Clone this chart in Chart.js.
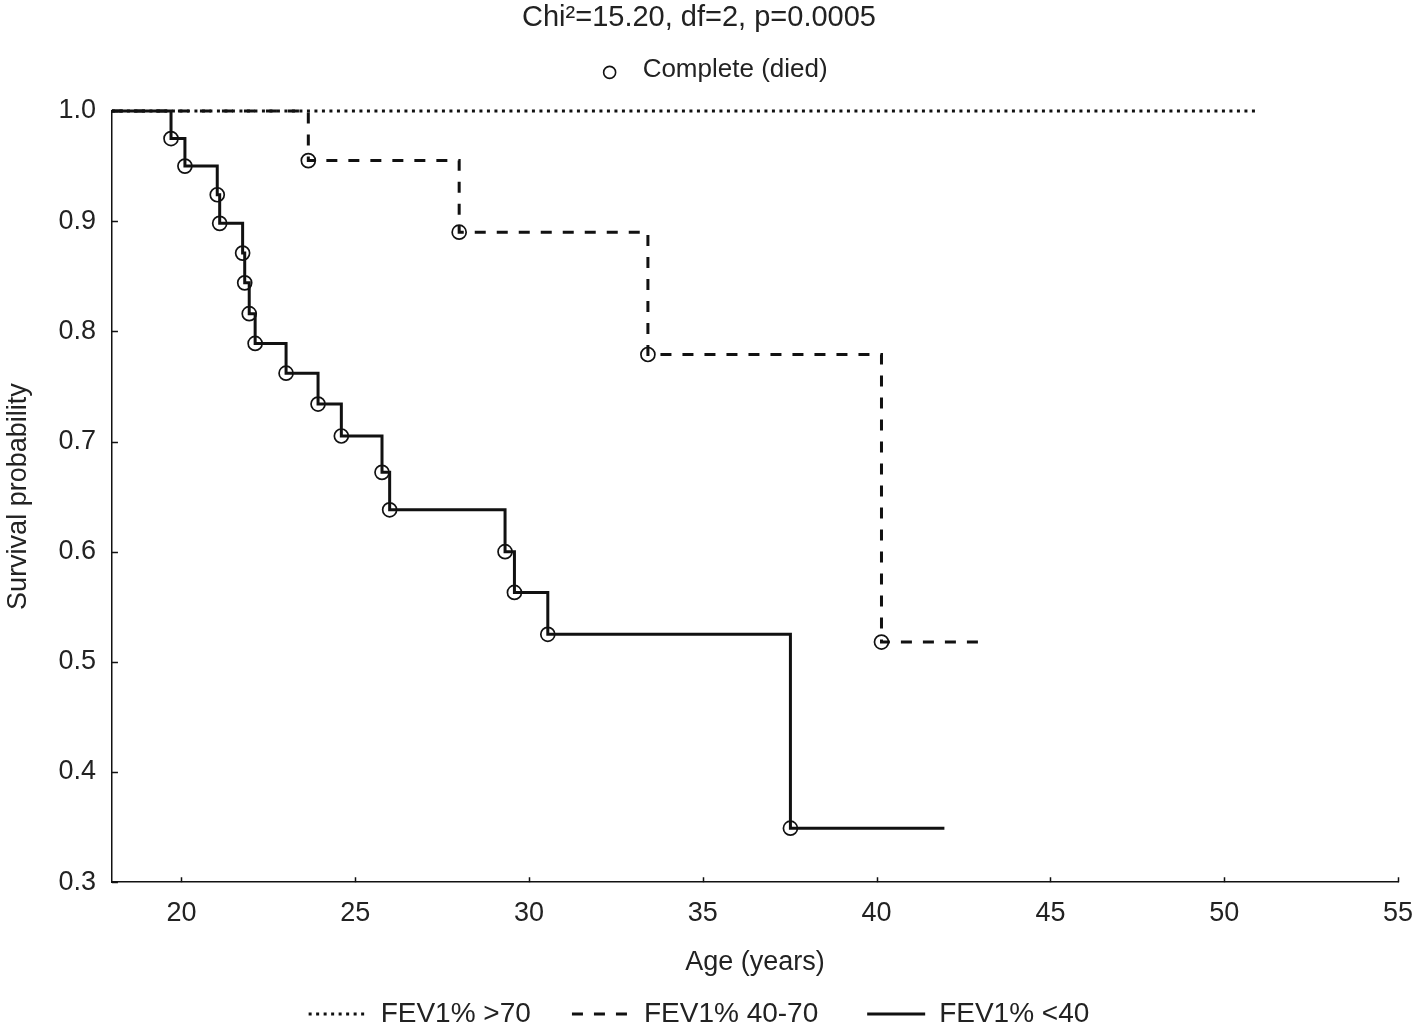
<!DOCTYPE html>
<html>
<head>
<meta charset="utf-8">
<script src="https://cdn.jsdelivr.net/npm/chart.js@4.4.1/dist/chart.umd.min.js"></script>
<style>
html, body { margin: 0; padding: 0; background: #ffffff; overflow: hidden; }
#wrap { width: 1416px; height: 1024px; position: relative; }
</style>
</head>
<body>
<div id="wrap"><canvas id="c" width="1416" height="1024"></canvas></div>
<script>
// ---------- data ----------
const titleText = 'Chi\u00B2=15.20, df=2, p=0.0005';
const censorLabel = 'Complete (died)';
const xTitle = 'Age (years)';
const yTitle = 'Survival probability';
const seriesLabels = ['FEV1% >70', 'FEV1% 40-70', 'FEV1% <40'];

const startAge = 18;

// FEV1% >70 : no deaths observed
const highTimes = [];
const highSurv = [];
const highEnd = 51.0;

// FEV1% 40-70
const midTimes = [23.65, 27.99, 33.42, 40.14];
const midSurv = [0.955, 0.890, 0.779, 0.518];
const midEnd = 43.1;

// FEV1% <40
const lowTimes = [19.70, 20.10, 21.03, 21.10, 21.76, 21.82, 21.95, 22.12, 23.01, 23.93, 24.60, 25.77, 25.99, 29.31, 29.58, 30.54, 37.52];
const lowSurv = [0.975, 0.950, 0.924, 0.898, 0.871, 0.844, 0.816, 0.789, 0.762, 0.734, 0.705, 0.672, 0.638, 0.600, 0.563, 0.525, 0.349];
const lowEnd = 41.95;

const xTicks = [20, 25, 30, 35, 40, 45, 50, 55];
const yTicks = [0.3, 0.4, 0.5, 0.6, 0.7, 0.8, 0.9, 1.0];

// ---------- helpers ----------
function stepData(times, surv, end) {
  const pts = [{x: startAge, y: 1.0}];
  times.forEach((t, i) => pts.push({x: t, y: surv[i]}));
  pts.push({x: end, y: surv.length ? surv[surv.length - 1] : 1.0});
  return pts;
}
function deathPoints(times, surv) {
  return times.map((t, i) => ({x: t, y: surv[i]}));
}

const INK = '#111111';
const TXT = '#222222';
const FONT = '"Liberation Sans", Arial, sans-serif';
const SUB_PAD = ' '.repeat(10);

const lineBase = {
  type: 'line',
  stepped: true,
  borderColor: INK,
  backgroundColor: 'rgba(0,0,0,0)',
  borderWidth: 3,
  pointRadius: 0,
  pointHoverRadius: 0,
  fill: false,
  clip: false,
  borderCapStyle: 'butt',
  borderJoinStyle: 'miter'
};
const circleBase = {
  type: 'scatter',
  label: censorLabel,
  showLine: false,
  pointStyle: 'circle',
  pointRadius: 7,
  pointBorderWidth: 1.7,
  pointBorderColor: INK,
  pointBackgroundColor: 'rgba(0,0,0,0)',
  clip: false
};

const datasets = [
  Object.assign({}, lineBase, {label: seriesLabels[0], data: stepData(highTimes, highSurv, highEnd), borderDash: [3, 4.5]}),
  Object.assign({}, lineBase, {label: seriesLabels[1], data: stepData(midTimes, midSurv, midEnd), borderDash: [11, 11]}),
  Object.assign({}, lineBase, {label: seriesLabels[2], data: stepData(lowTimes, lowSurv, lowEnd), borderDash: []}),
  Object.assign({}, circleBase, {data: deathPoints(midTimes, midSurv)}),
  Object.assign({}, circleBase, {data: deathPoints(lowTimes, lowSurv)})
];

// inward tick marks + marker before "Complete (died)"
const decor = {
  id: 'decor',
  afterDraw(chart) {
    const {ctx, scales: {x, y}, chartArea} = chart;
    ctx.save();
    ctx.strokeStyle = INK;
    ctx.lineWidth = 1.5;
    ctx.beginPath();
    xTicks.forEach(v => {
      const px = Math.round(x.getPixelForValue(v)) + 0.5;
      ctx.moveTo(px, chartArea.bottom);
      ctx.lineTo(px, chartArea.bottom - 5);
    });
    yTicks.forEach(v => {
      const py = Math.round(y.getPixelForValue(v)) + 0.5;
      ctx.moveTo(chartArea.left, py);
      ctx.lineTo(chartArea.left + 6, py);
    });
    ctx.stroke();
    const sub = chart.boxes.find(b => b !== chart.titleBlock && b.options && b.options.text === SUB_PAD + censorLabel);
    if (sub) {
      const o = sub.options;
      const size = o.font.size;
      ctx.font = size + 'px ' + FONT;
      const wAll = ctx.measureText(SUB_PAD + censorLabel).width;
      const wPad = ctx.measureText(SUB_PAD).width;
      const textLeft = (sub.left + sub.right) / 2 - wAll / 2 + wPad;
      const cx = textLeft - 33;
      const cy = sub.top + o.padding.top + size * 1.2 / 2 + 3;
      ctx.lineWidth = 1.6;
      ctx.beginPath();
      ctx.arc(cx, cy, 6, 0, Math.PI * 2);
      ctx.stroke();
    }
    ctx.restore();
  }
};

new Chart(document.getElementById('c'), {
  data: {datasets},
  options: {
    responsive: false,
    devicePixelRatio: 1,
    animation: false,
    events: [],
    layout: {padding: {left: 0, right: 18, top: 0, bottom: -14}},
    scales: {
      x: {
        type: 'linear',
        min: 18,
        max: 55,
        afterBuildTicks: axis => { axis.ticks = xTicks.map(v => ({value: v})); },
        afterFit: axis => { axis.paddingRight = 0; },
        grid: {display: false, drawTicks: false},
        border: {display: true, color: INK, width: 1.5},
        ticks: {color: TXT, font: {family: FONT, size: 27}, padding: 15, maxRotation: 0, autoSkip: false,
                callback: v => String(v)},
        title: {display: true, text: xTitle, color: TXT, font: {family: FONT, size: 27}, padding: {top: 2, bottom: 11}}
      },
      y: {
        type: 'linear',
        min: 0.3,
        max: 1.0,
        afterBuildTicks: axis => { axis.ticks = yTicks.map(v => ({value: v})); },
        grid: {display: false, drawTicks: false},
        border: {display: true, color: INK, width: 1.5},
        ticks: {color: TXT, font: {family: FONT, size: 27}, padding: 16, callback: v => Number(v).toFixed(1)},
        title: {display: true, text: yTitle, color: TXT, font: {family: FONT, size: 27}, padding: {top: 2, bottom: 8}}
      }
    },
    plugins: {
      title: {display: true, text: titleText, color: TXT, font: {family: FONT, size: 29, weight: 'normal'}, padding: {top: 1, bottom: 8}},
      subtitle: {display: true, text: SUB_PAD + censorLabel, color: TXT, font: {family: FONT, size: 26, weight: 'normal'}, padding: {top: 10, bottom: 26}},
      legend: {
        display: true,
        position: 'bottom',
        labels: {
          usePointStyle: true,
          pointStyle: 'line',
          pointStyleWidth: 58,
          color: TXT,
          font: {family: FONT, size: 28},
          padding: 10,
          filter: item => item.datasetIndex < 3,
          generateLabels: chart => {
            const items = Chart.defaults.plugins.legend.labels.generateLabels(chart);
            return items.map(it => {
              const ds = chart.data.datasets[it.datasetIndex];
              const gap = it.datasetIndex === 0 ? '    ' : (it.datasetIndex === 1 ? '     ' : '');
              return Object.assign(it, {
                text: it.text + gap,
                lineDash: ds.borderDash || [],
                lineWidth: 3,
                strokeStyle: INK,
                lineCap: 'butt'
              });
            });
          }
        }
      },
      tooltip: {enabled: false}
    }
  },
  plugins: [decor]
});
</script>
</body>
</html>
